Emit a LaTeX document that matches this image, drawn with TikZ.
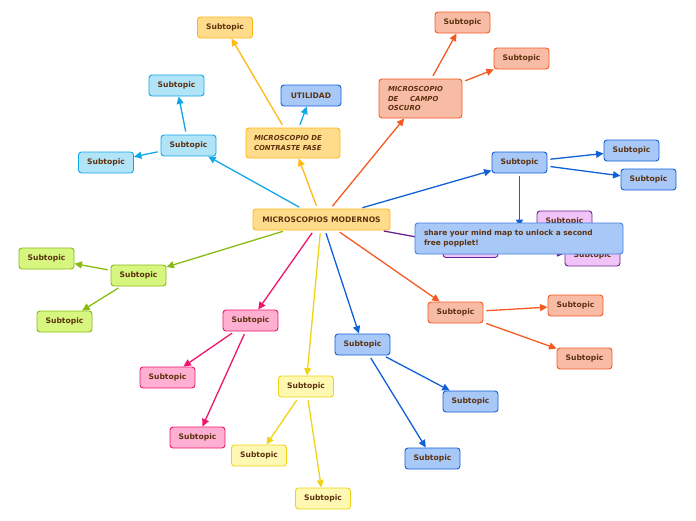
\documentclass[tikz,border=0pt]{standalone}
\usepackage{fontspec}
\setmainfont{DejaVu Sans}
\usepackage{xcolor}
\usetikzlibrary{arrows.meta}

\definecolor{txt}{HTML}{5C3210}
\definecolor{orfill}{HTML}{FFDC8C}
\definecolor{ordraw}{HTML}{FFB814}
\definecolor{cyfill}{HTML}{B2E4F8}
\definecolor{cydraw}{HTML}{12A8E8}
\definecolor{blfill}{HTML}{A8C8F8}
\definecolor{bldraw}{HTML}{1060D8}
\definecolor{safill}{HTML}{F8BCA6}
\definecolor{sadraw}{HTML}{F55A22}
\definecolor{grfill}{HTML}{D6F680}
\definecolor{grdraw}{HTML}{88BB12}
\definecolor{pifill}{HTML}{FFB0D2}
\definecolor{pidraw}{HTML}{F0146E}
\definecolor{yefill}{HTML}{FFF8B2}
\definecolor{yedraw}{HTML}{F0D414}
\definecolor{pufill}{HTML}{F0C4F8}
\definecolor{pudraw}{HTML}{6A2490}

\begin{document}
\begin{tikzpicture}[x=1pt,y=-1pt,
  every node/.style={font=\fontsize{7.6}{9}\selectfont\bfseries, text=txt},
  topic/.style={draw, rounded corners=3pt, line width=0.9pt,
    minimum width=55pt, minimum height=21pt, inner sep=2pt},
  orangebox/.style={topic, fill=orfill, draw=ordraw},
  cyanbox/.style={topic, fill=cyfill, draw=cydraw},
  bluebox/.style={topic, fill=blfill, draw=bldraw},
  salmonbox/.style={topic, fill=safill, draw=sadraw},
  greenbox/.style={topic, fill=grfill, draw=grdraw},
  pinkbox/.style={topic, fill=pifill, draw=pidraw},
  yellowbox/.style={topic, fill=yefill, draw=yedraw},
  purplebox/.style={topic, fill=pufill, draw=pudraw},
  bigtext/.style={font=\fontsize{6.9}{9.6}\selectfont\bfseries\itshape, align=left},
  link/.style={line width=1.3pt, -{Triangle[length=7.5pt,width=7pt]}, shorten <=3pt},
]
\useasboundingbox (0,0) rectangle (696,520);

% main topic and branches
\node[orangebox, minimum width=137pt] (main) at (321.5,219.5) {MICROSCOPIOS MODERNOS};
\node[orangebox, bigtext, minimum height=30pt, text width=78pt, inner xsep=8pt]
  (fase) at (293,143) {MICROSCOPIO DE\\CONTRASTE FASE};
\node[bluebox, minimum width=60pt] (util) at (311,95.5) {UTILIDAD};
\node[salmonbox, bigtext, minimum height=39pt, text width=65pt, inner xsep=9pt]
  (oscuro) at (420.5,98.5) {MICROSCOPIO\\DE\hspace{1.7em}CAMPO\\OSCURO};

\node[orangebox] (orA) at (225,27.5) {Subtopic};
\node[salmonbox] (saA) at (462.5,22.5) {Subtopic};
\node[salmonbox] (saB) at (521.5,58.5) {Subtopic};

\node[cyanbox] (cyA) at (188.5,145.5) {Subtopic};
\node[cyanbox] (cyB) at (176.5,85.5) {Subtopic};
\node[cyanbox] (cyC) at (106,162.5) {Subtopic};

\node[bluebox] (blA) at (519.5,162.5) {Subtopic};
\node[bluebox] (blB) at (631.5,150.5) {Subtopic};
\node[bluebox] (blC) at (648.5,179.5) {Subtopic};

\node[purplebox] (puA) at (470.5,247) {Subtopic};
\node[purplebox] (puB) at (564.5,221.5) {Subtopic};
\node[purplebox] (puC) at (592.5,255.5) {Subtopic};

\node[greenbox] (grA) at (138.5,275.5) {Subtopic};
\node[greenbox] (grB) at (46.5,258.5) {Subtopic};
\node[greenbox] (grC) at (64.5,321.5) {Subtopic};

\node[pinkbox] (piA) at (250.5,320.5) {Subtopic};
\node[pinkbox] (piB) at (167.5,377.5) {Subtopic};
\node[pinkbox] (piC) at (197.5,437.5) {Subtopic};

\node[yellowbox] (yeA) at (306,386.5) {Subtopic};
\node[yellowbox] (yeB) at (259,455.5) {Subtopic};
\node[yellowbox] (yeC) at (323,498.5) {Subtopic};

\node[bluebox] (blD) at (362.5,344.5) {Subtopic};
\node[bluebox] (blE) at (470.5,401.5) {Subtopic};
\node[bluebox] (blF) at (432.5,458.5) {Subtopic};

\node[salmonbox] (saC) at (455.5,312.5) {Subtopic};
\node[salmonbox] (saD) at (575.5,305.5) {Subtopic};
\node[salmonbox] (saE) at (584.5,358.5) {Subtopic};

\coordinate (blEnd) at (519.5,227);

\draw[link, ordraw] (main) -- (fase);
\draw[link, ordraw] (fase) -- (orA);
\draw[link, cydraw] (fase) -- (util);
\draw[link, cydraw] (main) -- (cyA);
\draw[link, cydraw] (cyA) -- (cyB);
\draw[link, cydraw] (cyA) -- (cyC);
\draw[link, sadraw] (main) -- (oscuro);
\draw[link, sadraw] (oscuro) -- (saA);
\draw[link, sadraw] (oscuro) -- (saB);
\draw[link, bldraw] (main) -- (blA);
\draw[link, bldraw] (blA) -- (blB);
\draw[link, bldraw] (blA) -- (blC);
\draw[link, bldraw] (blA) -- (blEnd);
\draw[link, pudraw] (main) -- (puA);
\draw[link, pudraw] (puA) -- (puB);
\draw[link, pudraw] (puA) -- (puC);
\draw[link, grdraw] (main) -- (grA);
\draw[link, grdraw] (grA) -- (grB);
\draw[link, grdraw] (grA) -- (grC);
\draw[link, pidraw] (main) -- (piA);
\draw[link, pidraw] (piA) -- (piB);
\draw[link, pidraw] (piA) -- (piC);
\draw[link, yedraw] (main) -- (yeA);
\draw[link, yedraw] (yeA) -- (yeB);
\draw[link, yedraw] (yeA) -- (yeC);
\draw[link, bldraw] (main) -- (blD);
\draw[link, bldraw] (blD) -- (blE);
\draw[link, bldraw] (blD) -- (blF);
\draw[link, sadraw] (main) -- (saC);
\draw[link, sadraw] (saC) -- (saD);
\draw[link, sadraw] (saC) -- (saE);

% banner on top
\node[bluebox, draw=bldraw!80!white, minimum width=208pt, minimum height=31pt,
  text width=190pt, inner xsep=9pt, align=left, font=\fontsize{7.4}{9.4}\selectfont\bfseries]
  (banner) at (519,238.5) {share your mind map to unlock a second\\free popplet!};
\end{tikzpicture}
\end{document}
